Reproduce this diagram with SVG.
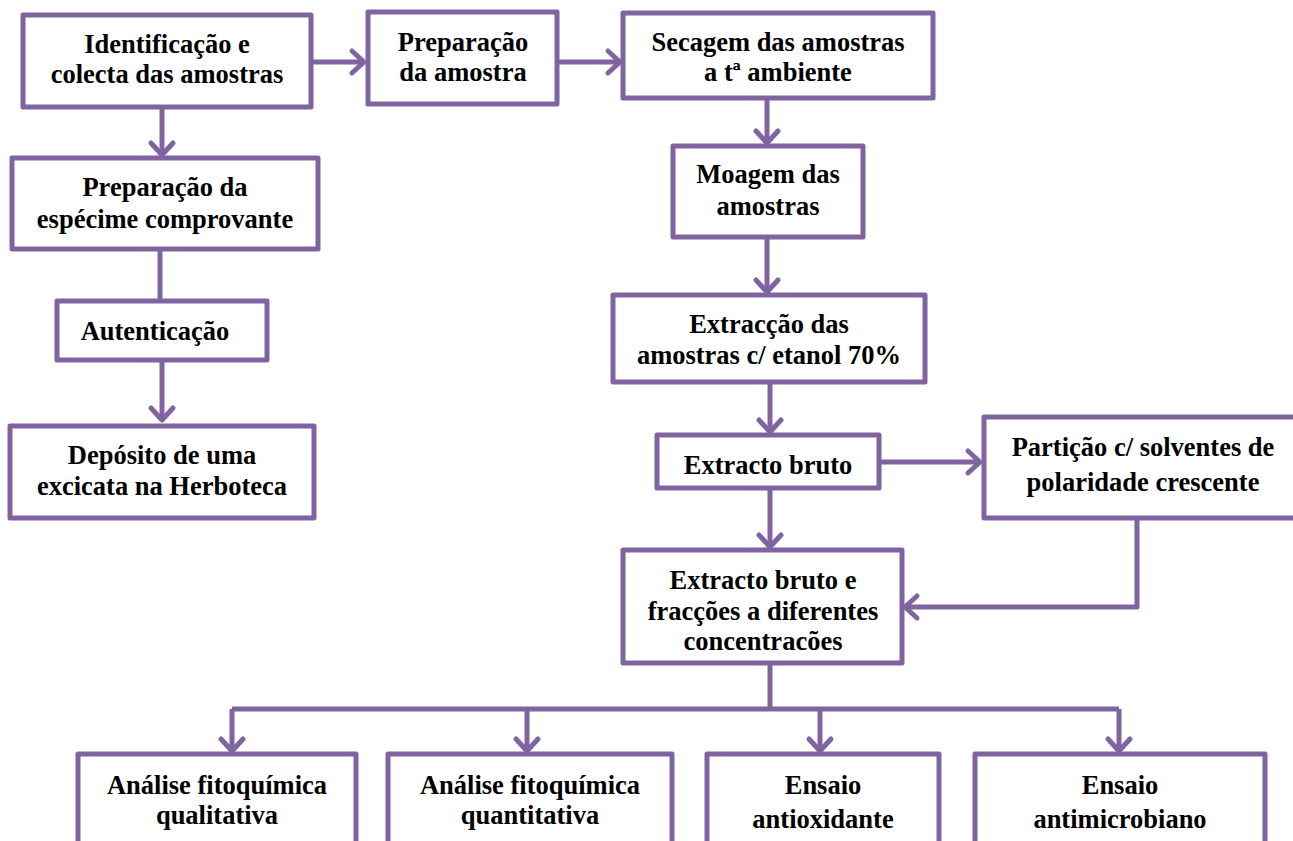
<svg xmlns="http://www.w3.org/2000/svg" width="1293" height="841" viewBox="0 0 1293 841">
<style>
.box{fill:#fff;stroke:#8064A2;stroke-width:5;stroke-linejoin:round}
.ln{fill:none;stroke:#8064A2;stroke-width:5;stroke-linejoin:round}
.t{font-family:"Liberation Serif","Times New Roman",serif;font-weight:bold;font-size:26.5px;fill:#000;text-anchor:middle}
</style>
<defs>
<marker id="ah" markerUnits="userSpaceOnUse" viewBox="0 0 18 26" refX="14" refY="13" markerWidth="18" markerHeight="26" orient="auto" overflow="visible">
<path d="M2,2 L14,13 L2,24" fill="none" stroke="#8064A2" stroke-width="5" stroke-linecap="round" stroke-linejoin="round"/>
</marker>
</defs>
<rect width="1293" height="841" fill="#fff"/>
<g id="connectors">
<line class="ln" x1="311" y1="62" x2="364" y2="62" marker-end="url(#ah)"/>
<line class="ln" x1="557" y1="62" x2="620" y2="62" marker-end="url(#ah)"/>
<line class="ln" x1="162" y1="107" x2="162" y2="155" marker-end="url(#ah)"/>
<line class="ln" x1="160" y1="249" x2="160" y2="301"/>
<line class="ln" x1="162" y1="360" x2="162" y2="420" marker-end="url(#ah)"/>
<line class="ln" x1="767" y1="98" x2="767" y2="143" marker-end="url(#ah)"/>
<line class="ln" x1="767" y1="237" x2="767" y2="292" marker-end="url(#ah)"/>
<line class="ln" x1="770" y1="382" x2="770" y2="432" marker-end="url(#ah)"/>
<line class="ln" x1="879" y1="462" x2="980" y2="462" marker-end="url(#ah)"/>
<line class="ln" x1="770" y1="488" x2="770" y2="547" marker-end="url(#ah)"/>
<polyline class="ln" points="1137,518 1137,607 905,607" marker-end="url(#ah)"/>
<line class="ln" x1="770" y1="663" x2="770" y2="709"/>
<polyline class="ln" points="232,709 1119,709"/>
<line class="ln" x1="232" y1="709" x2="232" y2="751" marker-end="url(#ah)"/>
<line class="ln" x1="527" y1="709" x2="527" y2="751" marker-end="url(#ah)"/>
<line class="ln" x1="820" y1="709" x2="820" y2="751" marker-end="url(#ah)"/>
<line class="ln" x1="1119" y1="709" x2="1119" y2="751" marker-end="url(#ah)"/>
</g>
<g id="n1"><rect class="box" x="23" y="15" width="288" height="92"/><text class="t" x="167" y="53">Identificação e</text><text class="t" x="167" y="83">colecta das amostras</text></g>
<g id="n2"><rect class="box" x="368" y="12" width="189" height="92"/><text class="t" x="463" y="51">Preparação</text><text class="t" x="463" y="81">da amostra</text></g>
<g id="n3"><rect class="box" x="623" y="13" width="310" height="85"/><text class="t" x="778" y="51">Secagem das amostras</text><text class="t" x="778" y="81">a tª ambiente</text></g>
<g id="n4"><rect class="box" x="673" y="146" width="190" height="91"/><text class="t" x="768" y="183">Moagem das</text><text class="t" x="768" y="215">amostras</text></g>
<g id="n5"><rect class="box" x="12" y="158" width="306" height="91"/><text class="t" x="165" y="196">Preparação da</text><text class="t" x="165" y="228">espécime comprovante</text></g>
<g id="n6"><rect class="box" x="57" y="301" width="210" height="59"/><text class="t" x="155" y="340">Autenticação</text></g>
<g id="n7"><rect class="box" x="10" y="426" width="304" height="92"/><text class="t" x="162" y="464">Depósito de uma</text><text class="t" x="162" y="495">excicata na Herboteca</text></g>
<g id="n8"><rect class="box" x="613" y="295" width="312" height="87"/><text class="t" x="769" y="333">Extracção das</text><text class="t" x="769" y="364">amostras c/ etanol 70%</text></g>
<g id="n9"><rect class="box" x="657" y="435" width="222" height="53"/><text class="t" x="768" y="474">Extracto bruto</text></g>
<g id="n10"><rect class="box" x="984" y="417" width="312" height="101"/><text class="t" x="1143" y="456">Partição c/ solventes de</text><text class="t" x="1143" y="491">polaridade crescente</text></g>
<g id="n11"><rect class="box" x="623" y="550" width="279" height="113"/><text class="t" x="763" y="589">Extracto bruto e</text><text class="t" x="763" y="620">fracções a diferentes</text><text class="t" x="763" y="650">concentracões</text></g>
<g id="n12"><rect class="box" x="78" y="754" width="278" height="100"/><text class="t" x="217" y="794">Análise fitoquímica</text><text class="t" x="217" y="824">qualitativa</text></g>
<g id="n13"><rect class="box" x="388" y="754" width="284" height="100"/><text class="t" x="530" y="794">Análise fitoquímica</text><text class="t" x="530" y="824">quantitativa</text></g>
<g id="n14"><rect class="box" x="707" y="754" width="232" height="100"/><text class="t" x="823" y="794">Ensaio</text><text class="t" x="823" y="828">antioxidante</text></g>
<g id="n15"><rect class="box" x="975" y="754" width="290" height="100"/><text class="t" x="1120" y="794">Ensaio</text><text class="t" x="1120" y="828">antimicrobiano</text></g>
</svg>
